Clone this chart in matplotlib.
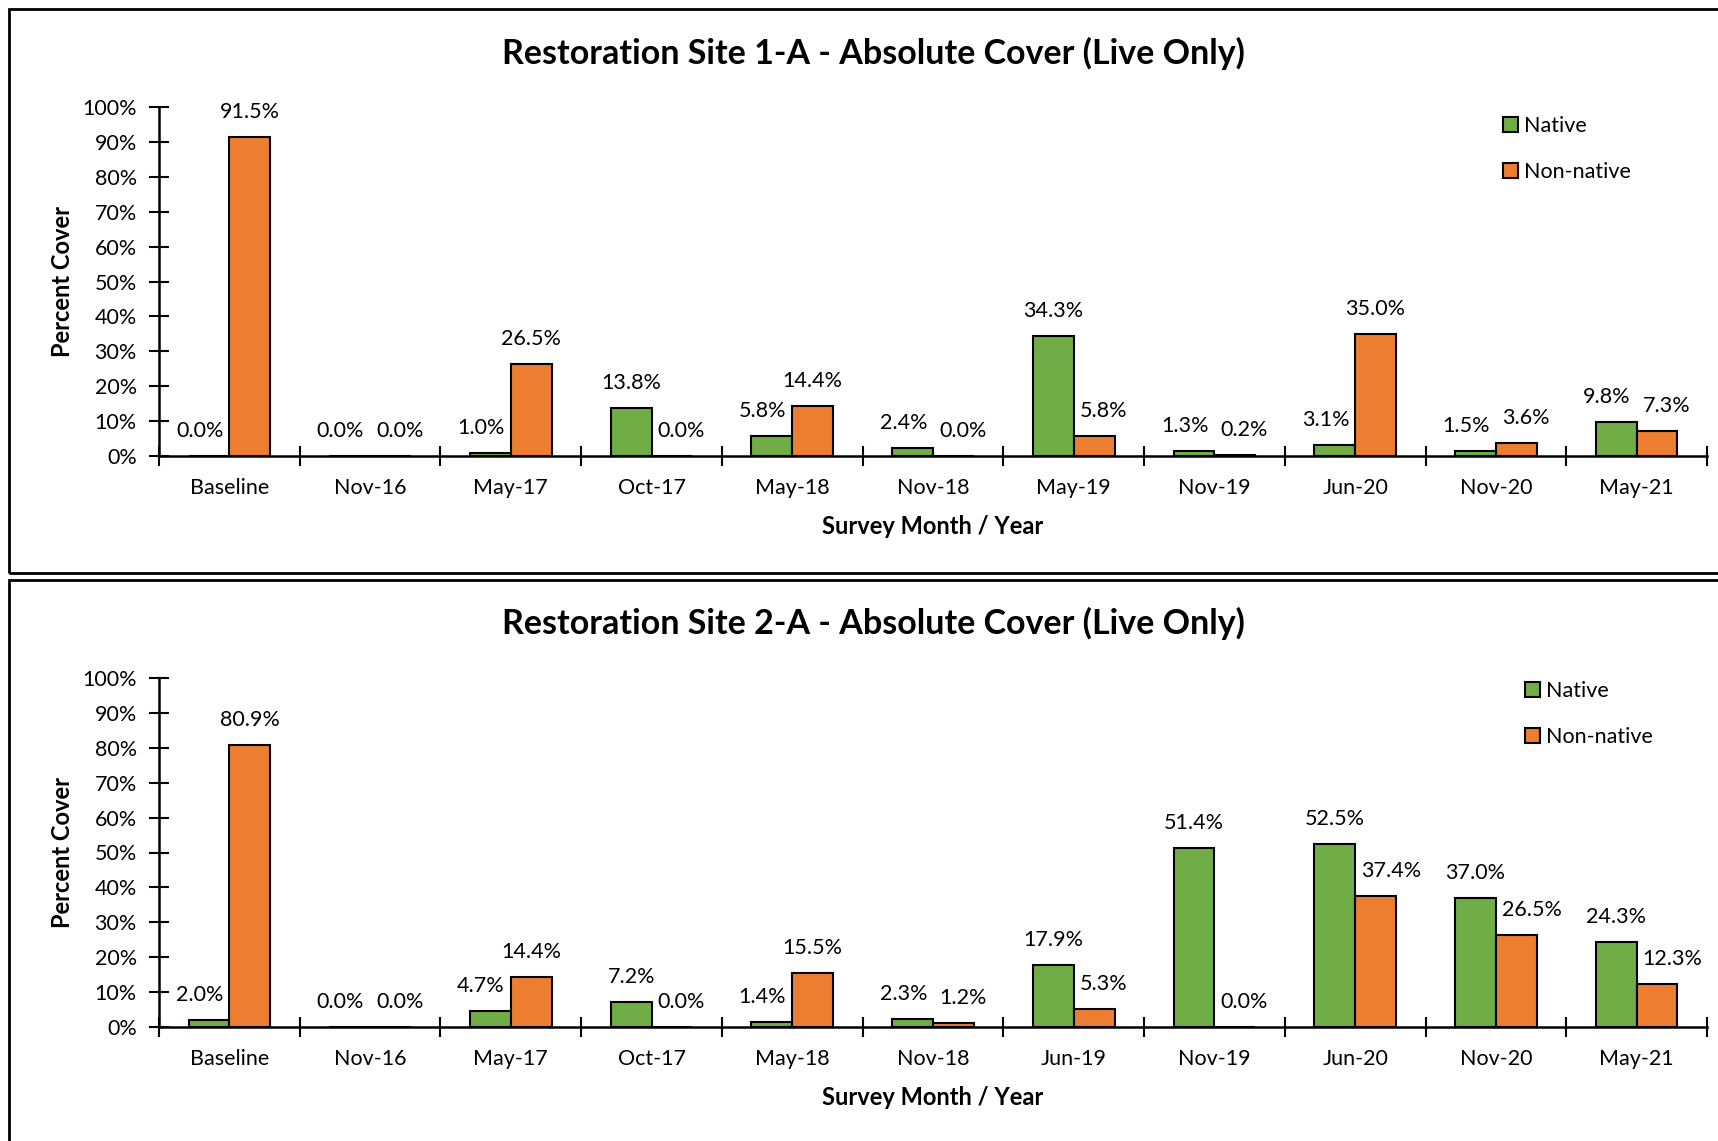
import matplotlib.pyplot as plt
from matplotlib.patches import Rectangle
import numpy as np

plt.rcParams['font.family'] = ['Lato', 'DejaVu Sans']

# Site 1-A
site1_months = ['Baseline', 'Nov-16', 'May-17', 'Oct-17', 'May-18', 'Nov-18',
                'May-19', 'Nov-19', 'Jun-20', 'Nov-20', 'May-21']
site1_native = [0.0, 0.0, 1.0, 13.8, 5.8, 2.4, 34.3, 1.3, 3.1, 1.5, 9.8]
site1_nonnative = [91.5, 0.0, 26.5, 0.0, 14.4, 0.0, 5.8, 0.2, 35.0, 3.6, 7.3]

# Site 2-A
site2_months = ['Baseline', 'Nov-16', 'May-17', 'Oct-17', 'May-18', 'Nov-18',
                'Jun-19', 'Nov-19', 'Jun-20', 'Nov-20', 'May-21']
site2_native = [2.0, 0.0, 4.7, 7.2, 1.4, 2.3, 17.9, 51.4, 52.5, 37.0, 24.3]
site2_nonnative = [80.9, 0.0, 14.4, 0.0, 15.5, 1.2, 5.3, 0.0, 37.4, 26.5, 12.3]

GREEN = '#70AD47'
ORANGE = '#ED7D31'
W, H = 1718, 1141
FS = 15.5


def draw_panel(fig, rect, title, title_y, months, native, nonnative, legend_xy):
    ax = fig.add_axes(rect)
    x = np.arange(len(months))
    bw = 0.29
    b1 = ax.bar(x - bw / 2, native, bw, color=GREEN, edgecolor='black',
                linewidth=1.5, label='Native')
    b2 = ax.bar(x + bw / 2, nonnative, bw, color=ORANGE, edgecolor='black',
                linewidth=1.5, label='Non-native')

    # Data labels above each bar
    groups = []
    for bar1, bar2, v1, v2 in zip(b1, b2, native, nonnative):
        t1 = ax.annotate(f'{v1:.1f}%', (bar1.get_x() + bw / 2, v1),
                         xytext=(0, 18), textcoords='offset points',
                         ha='center', va='center', fontsize=FS)
        t2 = ax.annotate(f'{v2:.1f}%', (bar2.get_x() + bw / 2, v2),
                         xytext=(0, 18), textcoords='offset points',
                         ha='center', va='center', fontsize=FS)
        groups.append((t1, t2, bar1, bar2))

    ax.set_xlim(-0.5, len(months) - 0.5)
    ax.set_ylim(0, 100)
    ax.set_yticks(range(0, 101, 10))
    ax.set_yticklabels([f'{t}%' for t in range(0, 101, 10)])
    ax.set_xticks(x)
    ax.set_xticklabels(months)
    ax.set_xticks(np.arange(len(months) + 1) - 0.5, minor=True)
    ax.tick_params(axis='x', which='major', length=0, pad=16, labelsize=FS)
    ax.tick_params(axis='x', which='minor', direction='inout', length=14, width=1.5)
    ax.tick_params(axis='y', direction='inout', length=14, width=1.5,
                   labelsize=FS, pad=9)

    for s in ('top', 'right'):
        ax.spines[s].set_visible(False)
    for s in ('left', 'bottom'):
        ax.spines[s].set_linewidth(1.8)

    ax.set_xlabel('Survey Month / Year', fontsize=17, fontweight='bold', labelpad=12)
    ax.set_ylabel('Percent Cover', fontsize=17, fontweight='bold', labelpad=6)

    fig.text(873 / W, title_y, title, ha='center', va='center',
             fontsize=24.5, fontweight='bold')

    ax.legend(loc='upper left', bbox_to_anchor=legend_xy,
              bbox_transform=fig.transFigure, frameon=False,
              fontsize=FS, handlelength=0.7, handleheight=0.7,
              handletextpad=0.3, labelspacing=1.2, borderpad=0)
    return ax, groups


def spread_labels(fig, groups, margin=6):
    # keep each label clear of the neighbouring bar and of the other label
    fig.canvas.draw()
    r = fig.canvas.get_renderer()
    px2pt = 72 / fig.dpi
    for t1, t2, bar1, bar2 in groups:
        bb1 = t1.get_window_extent(r)
        bb2 = t2.get_window_extent(r)
        e1 = bar1.get_window_extent(r)
        e2 = bar2.get_window_extent(r)
        s1 = s2 = 0
        if bb1.y0 < e2.y1:
            s1 = max(0, bb1.x1 + margin - e2.x0)
        if bb2.y0 < e1.y1:
            s2 = max(0, e1.x1 + margin - bb2.x0)
        x1r = bb1.x1 - s1
        x2l = bb2.x0 + s2
        if not (bb1.y1 < bb2.y0 or bb2.y1 < bb1.y0):
            over = x1r + 2 * margin - x2l
            if over > 0:
                s1 += over / 2
                s2 += over / 2
        t1.xyann = (t1.xyann[0] - s1 * px2pt, t1.xyann[1])
        t2.xyann = (t2.xyann[0] + s2 * px2pt, t2.xyann[1])


fig = plt.figure(figsize=(W / 100, H / 100), dpi=100)

# Outer boxes around the two charts
fig.add_artist(Rectangle((9 / W, 1 - 573 / H), 1.2, (573 - 9) / H,
                         transform=fig.transFigure, fill=False,
                         edgecolor='black', linewidth=2))
fig.add_artist(Rectangle((9 / W, -0.2), 1.2, 0.2 + 1 - 580 / H,
                         transform=fig.transFigure, fill=False,
                         edgecolor='black', linewidth=2))

ax1, groups1 = draw_panel(fig, [159 / W, 1 - 456 / H, (1707 - 159) / W, (456 - 107) / H],
                          'Restoration Site 1-A - Absolute Cover (Live Only)', 1 - 53 / H,
                          site1_months, site1_native, site1_nonnative,
                          (1492 / W, 1 - 105 / H))
ax2, groups2 = draw_panel(fig, [159 / W, 1 - 1027 / H, (1707 - 159) / W, (1027 - 678) / H],
                          'Restoration Site 2-A - Absolute Cover (Live Only)', 1 - 623 / H,
                          site2_months, site2_native, site2_nonnative,
                          (1514 / W, 1 - 670 / H))
spread_labels(fig, groups1 + groups2)

fig.savefig('out.png', dpi=100)
